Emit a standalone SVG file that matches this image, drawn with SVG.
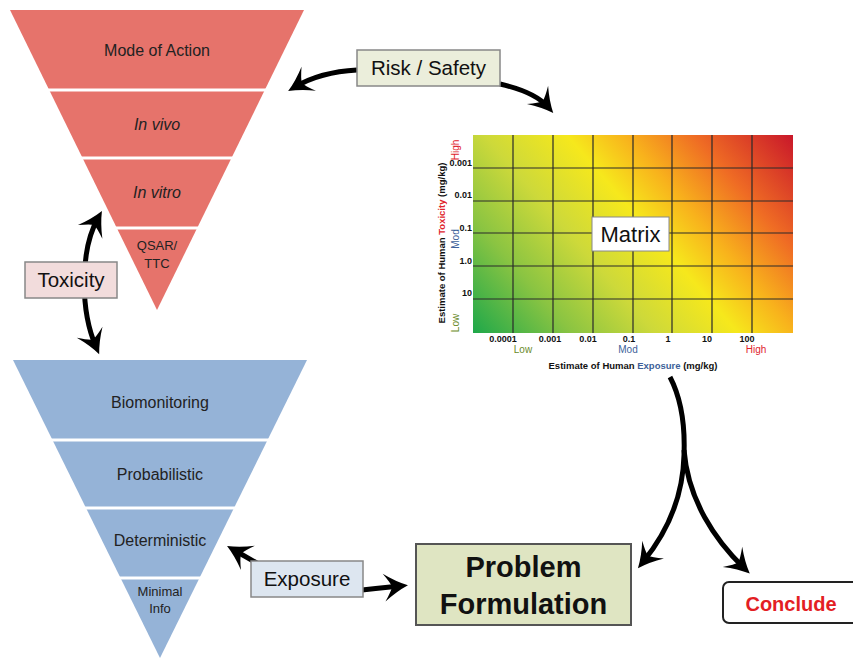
<svg xmlns="http://www.w3.org/2000/svg" width="853" height="662" viewBox="0 0 853 662">
<style>
text{font-family:"Liberation Sans",Arial,sans-serif;}
.pt{font-size:16px;fill:#222;text-anchor:middle;}
.ps{font-size:13px;fill:#222;text-anchor:middle;}
.sep{stroke:#fff;stroke-width:3;}
.lbl{font-size:20.5px;fill:#111;text-anchor:middle;}
.box{stroke:#888;stroke-width:1.5;}
.arr{fill:none;stroke:#000;stroke-width:5;marker-end:url(#ah);}
.grid{stroke:#2a2a2a;stroke-width:1.2;fill:none;}
.num{font-size:9px;font-weight:bold;fill:#111;}
.ax{font-size:9.5px;font-weight:bold;fill:#111;}
.rl{font-size:10px;}
</style>
<defs>
<marker id="ah" markerUnits="userSpaceOnUse" orient="auto-start-reverse" refX="-8" refY="0" markerWidth="30" markerHeight="30" overflow="visible">
<path d="M0,0 Q-12,-5 -24,-14 Q-17,-4 -16,0 Q-17,4 -24,14 Q-12,5 0,0 Z" fill="#000"/>
</marker>
<linearGradient id="mg" gradientUnits="userSpaceOnUse" x1="473" y1="332" x2="753" y2="90">
<stop offset="0" stop-color="#1fa84a"/>
<stop offset="0.2" stop-color="#8ac442"/>
<stop offset="0.37" stop-color="#cdd93a"/>
<stop offset="0.54" stop-color="#f6e81c"/>
<stop offset="0.66" stop-color="#f8b21c"/>
<stop offset="0.8" stop-color="#ef6c24"/>
<stop offset="1" stop-color="#c9182a"/>
</linearGradient>
</defs>
<rect width="853" height="662" fill="#fff"/>

<g id="connectors">
<path class="arr" d="M357,70 Q320,72 295,87"/>
<path class="arr" d="M500,84 Q535,92 548,107"/>
<path class="arr" style="marker-start:url(#ah)" d="M98,218 C80,250 80,310 96,347"/>
<path class="arr" d="M262,566 L234,550"/>
<path class="arr" d="M362,590 Q380,588 400,586"/>
<path class="arr" d="M670,377 C682,400 685,430 684,455 C683,500 665,535 643,562"/>
<path class="arr" d="M684,450 C688,500 715,540 744,568"/>
</g>

<g id="toxicity-pyramid">
<polygon points="10,10 304,10 157,310" fill="#e6736b"/>
<line class="sep" x1="45" y1="90" x2="270" y2="90"/>
<line class="sep" x1="78" y1="158" x2="236" y2="158"/>
<line class="sep" x1="112" y1="228" x2="202" y2="228"/>
<text class="pt" x="157" y="56">Mode of Action</text>
<text class="pt" x="157" y="130" font-style="italic">In vivo</text>
<text class="pt" x="157" y="198" font-style="italic">In vitro</text>
<text class="ps" x="157" y="250">QSAR/</text>
<text class="ps" x="157" y="268">TTC</text>
</g>

<g id="exposure-pyramid">
<polygon points="13,360 307,360 160,658" fill="#95b3d7"/>
<line class="sep" x1="48" y1="440" x2="272" y2="440"/>
<line class="sep" x1="82" y1="508" x2="238" y2="508"/>
<line class="sep" x1="116" y1="578" x2="204" y2="578"/>
<text class="pt" x="160" y="408">Biomonitoring</text>
<text class="pt" x="160" y="480">Probabilistic</text>
<text class="pt" x="160" y="546">Deterministic</text>
<text class="ps" x="160" y="596">Minimal</text>
<text class="ps" x="160" y="613">Info</text>
</g>

<g id="toxicity-label">
<rect class="box" x="25" y="262" width="92" height="36" fill="#f2dcdc"/>
<text class="lbl" x="71" y="287">Toxicity</text>
</g>

<g id="risk-safety">
<rect class="box" x="357" y="50" width="143" height="36" fill="#ebeedb"/>
<text class="lbl" x="428.5" y="75">Risk / Safety</text>
</g>

<g id="matrix">
<rect x="473" y="135" width="320" height="198" fill="url(#mg)"/>
<path class="grid" d="M513,135V333M553,135V333M593,135V333M633,135V333M672,135V333M712,135V333M752,135V333M473,168H793M473,201H793M473,233H793M473,266H793M473,299H793"/>
<g class="num" text-anchor="end">
<text x="472" y="166">0.001</text>
<text x="472" y="198">0.01</text>
<text x="472" y="231">0.1</text>
<text x="472" y="264">1.0</text>
<text x="472" y="296">10</text>
</g>
<g class="num" text-anchor="middle">
<text x="503" y="342">0.0001</text>
<text x="550" y="342">0.001</text>
<text x="588" y="342">0.01</text>
<text x="629" y="342">0.1</text>
<text x="668" y="342">1</text>
<text x="707" y="342">10</text>
<text x="747" y="342">100</text>
</g>
<g class="rl" text-anchor="middle">
<text x="523" y="353" fill="#6a8a2a">Low</text>
<text x="628" y="353" fill="#3d5f99">Mod</text>
<text x="756" y="353" fill="#e0242c">High</text>
</g>
<text class="rl" transform="translate(459,150) rotate(-90)" text-anchor="middle" fill="#e0242c">High</text>
<text class="rl" transform="translate(459,239) rotate(-90)" text-anchor="middle" fill="#3d5f99">Mod</text>
<text class="rl" transform="translate(459,323) rotate(-90)" text-anchor="middle" fill="#6a8a2a">Low</text>
<text class="ax" transform="translate(445,243) rotate(-90)" text-anchor="middle">Estimate of Human <tspan fill="#e0242c">Toxicity</tspan> (mg/kg)</text>
<text class="ax" x="633" y="369" text-anchor="middle">Estimate of Human <tspan fill="#3d5f99">Exposure</tspan> (mg/kg)</text>
<rect x="592" y="217" width="77" height="34" fill="#fff" stroke="#888" stroke-width="1"/>
<text x="630.5" y="242" font-size="22" text-anchor="middle" fill="#111">Matrix</text>
</g>

<g id="exposure-label">
<rect class="box" x="251" y="561" width="112" height="36" fill="#dde6f0"/>
<text class="lbl" x="307" y="586">Exposure</text>
</g>

<g id="problem-formulation">
<rect x="416" y="544" width="215" height="81" fill="#dfe5c2" stroke="#555" stroke-width="2"/>
<text x="523.5" y="577" font-size="29" font-weight="bold" text-anchor="middle" fill="#111">Problem</text>
<text x="523.5" y="614" font-size="29" font-weight="bold" text-anchor="middle" fill="#111">Formulation</text>
</g>

<g id="conclude">
<rect x="723" y="582" width="140" height="41" rx="6" fill="#fff" stroke="#222" stroke-width="2"/>
<text x="791" y="611" font-size="20" font-weight="bold" text-anchor="middle" fill="#e31e24">Conclude</text>
</g>
</svg>
